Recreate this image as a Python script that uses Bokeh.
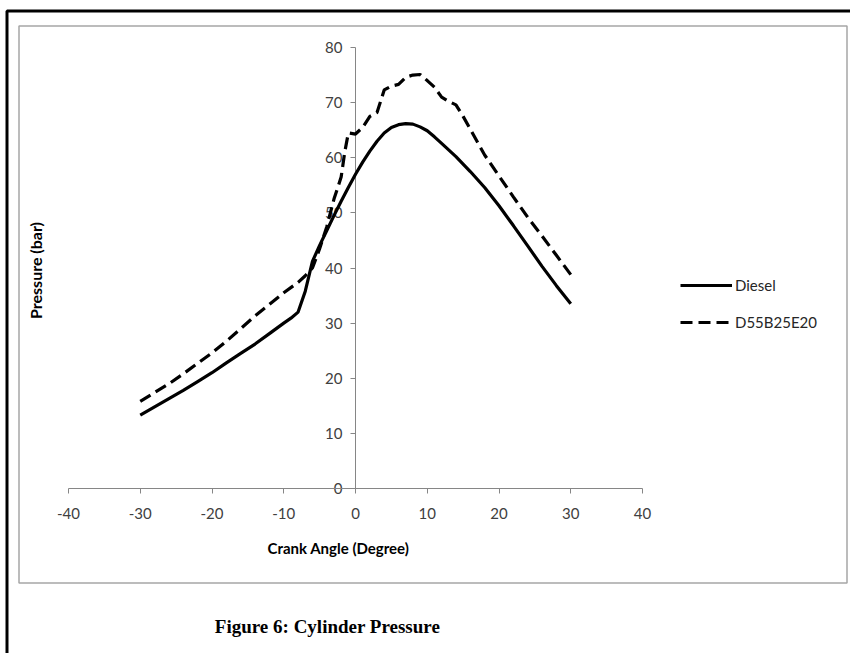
from bokeh.plotting import figure
from bokeh.models import (LinearAxis, FixedTicker, Label, BoxAnnotation, Legend,
                          LegendItem, Range1d, PrintfTickFormatter)
from bokeh.embed import file_html
from bokeh.resources import INLINE

# ---- data ----
diesel_x = [-30, -28, -26, -24, -22, -20, -18, -16, -14, -12, -10, -9, -8, -7, -6, -5, -4,
            -3, -2, -1, 0, 1, 2, 3, 4, 5, 6, 7, 8, 9, 10, 11, 12, 14, 16, 18, 20, 22, 24,
            26, 28, 30]
diesel_y = [13.3, 14.8, 16.3, 17.8, 19.4, 21.0, 22.8, 24.5, 26.2, 28.1, 30.0, 30.9, 32.0,
            35.8, 41.2, 44.1, 46.8, 49.5, 52.1, 54.6, 57.0, 59.2, 61.2, 63.0, 64.5, 65.5,
            66.0, 66.2, 66.1, 65.6, 64.9, 63.8, 62.6, 60.2, 57.5, 54.6, 51.3, 47.7, 44.0,
            40.3, 36.8, 33.5]

blend_x = [-30, -28, -26, -24, -22, -20, -18, -16, -14, -12, -10, -8, -7, -6, -5, -4, -3,
           -2, -1.5, -1, 0, 1, 2, 3, 4, 5, 6, 7, 8, 9, 10, 11, 12, 13, 14, 15, 16, 18, 20,
           22, 24, 26, 28, 30]
blend_y = [15.8, 17.4, 19.0, 20.8, 22.7, 24.6, 26.7, 29.0, 31.3, 33.4, 35.5, 37.4, 38.6,
           40.0, 43.5, 47.5, 52.5, 56.5, 61.0, 64.5, 64.3, 65.5, 67.5, 68.2, 72.3, 73.0,
           73.3, 74.6, 75.0, 75.1, 74.0, 72.8, 71.0, 70.2, 69.6, 67.5, 65.2, 60.5, 56.7,
           52.9, 49.2, 45.8, 42.3, 38.8]

series_names = ["Diesel", "D55B25E20"]
x_ticks = [-40, -30, -20, -10, 0, 10, 20, 30, 40]
y_ticks = [0, 10, 20, 30, 40, 50, 60, 70, 80]

x_title = "Crank Angle (Degree)"
y_title = "Pressure (bar)"
caption = "Figure 6: Cylinder Pressure"

# ---- layout: the frame covers the whole canvas; axes cross at zero ----
W, H = 850, 653
AX_LEFT_PX, AX_RIGHT_PX = 68.0, 642.0   # pixel positions of x = -40 and x = 40
AX_TOP_PX, AX_BOT_PX = 47.0, 488.0      # pixel positions of y = 80 and y = 0
SX = (AX_RIGHT_PX - AX_LEFT_PX) / (x_ticks[-1] - x_ticks[0])
SY = (AX_BOT_PX - AX_TOP_PX) / (y_ticks[-1] - y_ticks[0])


def dx(px):
    return x_ticks[0] + (px - AX_LEFT_PX) / SX


def dy(py):
    return y_ticks[0] + (AX_BOT_PX - py) / SY


FONT = "Lato"
AXIS_GREY = "#868686"
TEXT_GREY = "#404040"

p = figure(width=W, height=H, x_range=Range1d(dx(0), dx(W)), y_range=Range1d(dy(H), dy(0)),
           output_backend="svg", toolbar_location=None, x_axis_location=None,
           y_axis_location=None, min_border=0)
p.grid.visible = False
p.outline_line_color = None
p.background_fill_color = "white"
p.border_fill_color = "white"


def style_axis(ax):
    ax.minor_tick_line_color = None
    ax.axis_line_color = AXIS_GREY
    ax.major_tick_line_color = AXIS_GREY
    ax.major_tick_out = 5
    ax.major_tick_in = 0
    ax.major_label_text_font = FONT
    ax.major_label_text_font_size = "15px"
    ax.major_label_text_color = TEXT_GREY
    ax.formatter = PrintfTickFormatter(format="%d")


xa = LinearAxis(fixed_location=0, ticker=FixedTicker(ticks=x_ticks),
                bounds=(x_ticks[0], x_ticks[-1]))
style_axis(xa)
xa.major_label_standoff = 14
p.add_layout(xa, "below")

ya = LinearAxis(fixed_location=0, ticker=FixedTicker(ticks=y_ticks),
                bounds=(y_ticks[0], y_ticks[-1]))
style_axis(ya)
ya.major_label_standoff = 8
ya.level = "underlay"
p.add_layout(ya, "left")

r1 = p.line(diesel_x, diesel_y, line_color="black", line_width=3.2)
r2 = p.line(blend_x, blend_y, line_color="black", line_width=3.2, line_dash="12 6")

legend = Legend(items=[LegendItem(label=series_names[0], renderers=[r1]),
                       LegendItem(label=series_names[1], renderers=[r2])],
                location=(680, H - 332), glyph_width=52, glyph_height=20, spacing=17,
                padding=0, margin=0, label_standoff=3, border_line_color=None,
                background_fill_alpha=0, label_text_font=FONT,
                label_text_font_size="15px", label_text_color="#262626")
p.add_layout(legend)

# frames around the chart
p.add_layout(BoxAnnotation(left=dx(6.5), right=dx(W + 50), top=dy(10.5), bottom=dy(H + 50),
                           fill_alpha=0, line_color="black", line_alpha=1, line_width=3))
p.add_layout(BoxAnnotation(left=dx(18.5), right=dx(846.5), top=dy(25.5), bottom=dy(582.5),
                           fill_alpha=0, line_color="#a6a6a6", line_alpha=1, line_width=1.5))

# titles
p.add_layout(Label(x=dx(338), y=dy(547), text=x_title,
                   text_align="center", text_baseline="middle", text_font=FONT,
                   text_font_size="15px", text_font_style="bold", text_color="black"))
p.add_layout(Label(x=dx(35), y=dy(270), text=y_title,
                   angle=90, angle_units="deg", text_align="center",
                   text_baseline="middle", text_font=FONT, text_font_size="16px",
                   text_font_style="bold", text_color="black"))
p.add_layout(Label(x=dx(327), y=dy(626), text=caption,
                   text_align="center", text_baseline="middle",
                   text_font="Liberation Serif", text_font_size="19px",
                   text_font_style="bold", text_color="black"))

open("out.html", "w").write(file_html(p, INLINE))
